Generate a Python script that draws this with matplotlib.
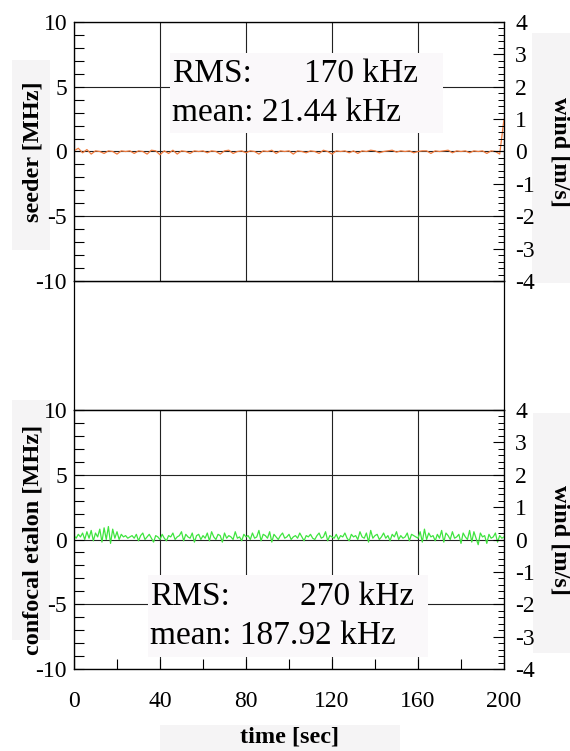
import numpy as np
import matplotlib
matplotlib.use('Agg')
import matplotlib.pyplot as plt
from matplotlib.ticker import MultipleLocator
from matplotlib.patches import Rectangle

plt.rcParams['font.family'] = ['Liberation Serif', 'DejaVu Serif']
plt.rcParams['axes.unicode_minus'] = False

# seeder frequency deviation [MHz], sampled every 2 s from 0 to 200 s
seeder = [0.05, 0.25, -0.1, 0.15, -0.2, 0.05, 0.0, -0.15, 0.05, 0.0,
          -0.2, 0.05, 0.0, 0.05, -0.15, 0.05, 0.0, -0.2, 0.1, 0.05,
          -0.25, 0.05, -0.15, 0.1, -0.2, 0.05, 0.0, -0.15, 0.05, 0.0,
          0.05, -0.1, 0.05, 0.0, -0.2, 0.05, 0.1, -0.15, 0.0, 0.05,
          -0.1, 0.05, 0.0, -0.2, 0.05, 0.0, 0.1, -0.15, 0.05, 0.0,
          0.05, -0.2, 0.05, 0.0, -0.1, 0.05, 0.0, -0.15, 0.1, 0.0,
          -0.2, 0.05, 0.0, 0.05, -0.1, 0.05, -0.15, 0.05, 0.0, 0.1,
          0.05, -0.1, 0.0, 0.05, 0.1, -0.05, 0.05, 0.0, 0.05, -0.1,
          0.0, 0.05, 0.05, -0.15, 0.05, 0.0, 0.05, 0.1, -0.1, 0.05,
          0.0, 0.05, -0.1, 0.05, 0.0, 0.05, -0.15, 0.05, 0.0, -0.2,
          2.5]

# confocal etalon frequency deviation [MHz], sampled every 1 s
etalon = [0.3, 0.1, 0.4, 0.2, 0.5, 0.0, 0.6, 0.1, 0.7, -0.1, 0.5, 0.2, 0.8, -0.2, 0.9, 0.0, 1.0, -0.3, 0.8, 0.1,
          0.6, 0.0, 0.4, 0.2, 0.3, 0.1, 0.2, 0.3, 0.1, 0.4, -0.1, 0.3, 0.5, 0.0, 0.2, 0.4, 0.1, -0.2, 0.3, 0.2,
          0.0, 0.4, 0.1, -0.1, 0.3, 0.2, 0.5, 0.0, 0.2, 0.3, 0.6, -0.1, 0.4, 0.2, 0.1, 0.5, -0.2, 0.3, 0.4, 0.0,
          0.3, 0.1, 0.5, -0.1, 0.6, 0.2, 0.0, 0.4, 0.3, -0.2, 0.5, 0.1, 0.3, 0.2, 0.0, 0.6, 0.1, 0.2, -0.1, 0.4,
          0.2, 0.3, 0.0, 0.5, 0.1, 0.2, 0.7, -0.1, 0.4, 0.3, 0.1, 0.6, -0.2, 0.4, 0.2, 0.0, 0.3, 0.5, 0.1, 0.2,
          0.4, 0.0, 0.2, 0.3, 0.1, 0.5, 0.2, -0.1, 0.3, 0.2, 0.4, 0.1, 0.0, 0.3, 0.5, 0.1, 0.2, 0.6, -0.1, 0.3,
          0.2, 0.1, 0.4, 0.0, 0.3, 0.2, 0.5, 0.1, -0.1, 0.4, 0.2, 0.3, 0.0, 0.6, 0.2, 0.1, 0.5, -0.2, 0.7, 0.1,
          0.3, 0.4, 0.0, 0.2, 0.5, 0.1, 0.3, -0.1, 0.4, 0.2, 0.6, 0.0, 0.3, 0.1, 0.2, 0.5, -0.1, 0.4, 0.3, 0.2,
          0.1, 0.6, -0.2, 0.8, 0.0, 0.5, 0.2, 0.3, -0.1, 0.4, 0.1, 0.7, -0.2, 0.5, 0.3, 0.0, 0.6, 0.1, 0.2, 0.4,
          -0.3, 0.5, 0.2, 0.0, 0.7, -0.2, 0.6, 0.1, -0.4, 0.5, 0.2, 0.3, -0.3, 0.4, 0.1, 0.2, 0.5, -0.2, 0.3, 0.1,
          0.2]

t_seeder = np.linspace(0, 200, len(seeder))
t_etalon = np.linspace(0, 200, len(etalon))

x_ticks = [0, 40, 80, 120, 160, 200]
left_ticks = [-10, -5, 0, 5, 10]
right_ticks = [-4, -3, -2, -1, 0, 1, 2, 3, 4]

panels = [
    dict(t=t_seeder, y=seeder, color='#f07a3c', label='seeder [MHz]',
         rms='170 kHz', mean='mean: 21.44 kHz'),
    dict(t=t_etalon, y=etalon, color='#3fe43f', label='confocal etalon [MHz]',
         rms='270 kHz', mean='mean: 187.92 kHz'),
]

fig = plt.figure(figsize=(5.70, 7.51), dpi=100)

L, W, H = 74 / 570, 430 / 570, 259 / 751
bottoms = [1 - 281 / 751, 1 - 669 / 751]

# light backgrounds behind pasted labels
bg = '#f5f4f5'
for (x0, y0, x1, y1) in [(532, 33, 570, 283), (533, 413, 570, 653), (160, 725, 400, 751),
                         (12, 60, 50, 250), (12, 400, 50, 640)]:
    fig.patches.append(Rectangle((x0 / 570, 1 - y1 / 751), (x1 - x0) / 570, (y1 - y0) / 751,
                                 transform=fig.transFigure, facecolor=bg, edgecolor='none', zorder=-1))

# middle empty frame joining the two panels
gap = bottoms[0] - bottoms[1] - H
mid = fig.add_axes([L, bottoms[0] - gap, W, gap])
mid.set_xticks([])
mid.set_yticks([])
for s in mid.spines.values():
    s.set_linewidth(0.9)

for i, p in enumerate(panels):
    ax = fig.add_axes([L, bottoms[i], W, H])
    ax.plot(p['t'], p['y'], color=p['color'], lw=0.9, zorder=3)
    ax.set_xlim(0, 200)
    ax.set_ylim(-10, 10)
    ax.set_xticks(x_ticks)
    ax.set_yticks(left_ticks)
    ax.yaxis.set_minor_locator(MultipleLocator(1))
    ax.grid(True, which='major', color='#222222', lw=0.8)
    ax.set_axisbelow(True)
    ax.tick_params(axis='y', which='both', direction='in', length=7, width=0.8,
                   labelsize=17, pad=5)
    if i == 1:
        ax.xaxis.set_minor_locator(MultipleLocator(20))
        ax.tick_params(axis='x', which='both', direction='in', length=7, width=0.8,
                       labelsize=17, pad=16)
        ax.set_xlabel('time [sec]', fontsize=17.5, fontweight='bold', labelpad=10)
    else:
        ax.tick_params(axis='x', which='both', length=0, labelbottom=False)
    ax.set_ylabel(p['label'], fontsize=17.5, fontweight='bold', labelpad=-6)
    for s in ax.spines.values():
        s.set_linewidth(0.9)

    ax2 = ax.twinx()
    ax2.set_ylim(-4, 4)
    ax2.set_yticks(right_ticks)
    ax2.yaxis.set_minor_locator(MultipleLocator(0.2))
    ax2.tick_params(axis='y', which='major', direction='in', length=8, width=0.8,
                    labelsize=17, pad=8)
    ax2.tick_params(axis='y', which='minor', direction='in', length=4, width=0.7)
    ax2.set_ylabel('wind [m/s]', fontsize=17.5, fontweight='bold', rotation=270, labelpad=26)

    # statistics box
    if i == 0:
        bx0, by0, bx1, by1 = 170, 53, 443, 133
        tx, tr = 172, 418
        ly1, ly2 = 74, 113
    else:
        bx0, by0, bx1, by1 = 148, 575, 428, 657
        tx, tr = 150, 414
        ly1, ly2 = 597, 636
    fig.patches.append(Rectangle((bx0 / 570, 1 - by1 / 751), (bx1 - bx0) / 570, (by1 - by0) / 751,
                                 transform=fig.transFigure, facecolor='#faf8fa',
                                 edgecolor='none', zorder=5))
    fig.text(tx / 570, 1 - ly1 / 751, 'RMS:', fontsize=24, ha='left', va='center', zorder=6)
    fig.text(tr / 570, 1 - ly1 / 751, p['rms'], fontsize=24, ha='right', va='center', zorder=6)
    fig.text(tx / 570, 1 - ly2 / 751, p['mean'], fontsize=24, ha='left', va='center', zorder=6)

fig.savefig('out.png', dpi=100)
